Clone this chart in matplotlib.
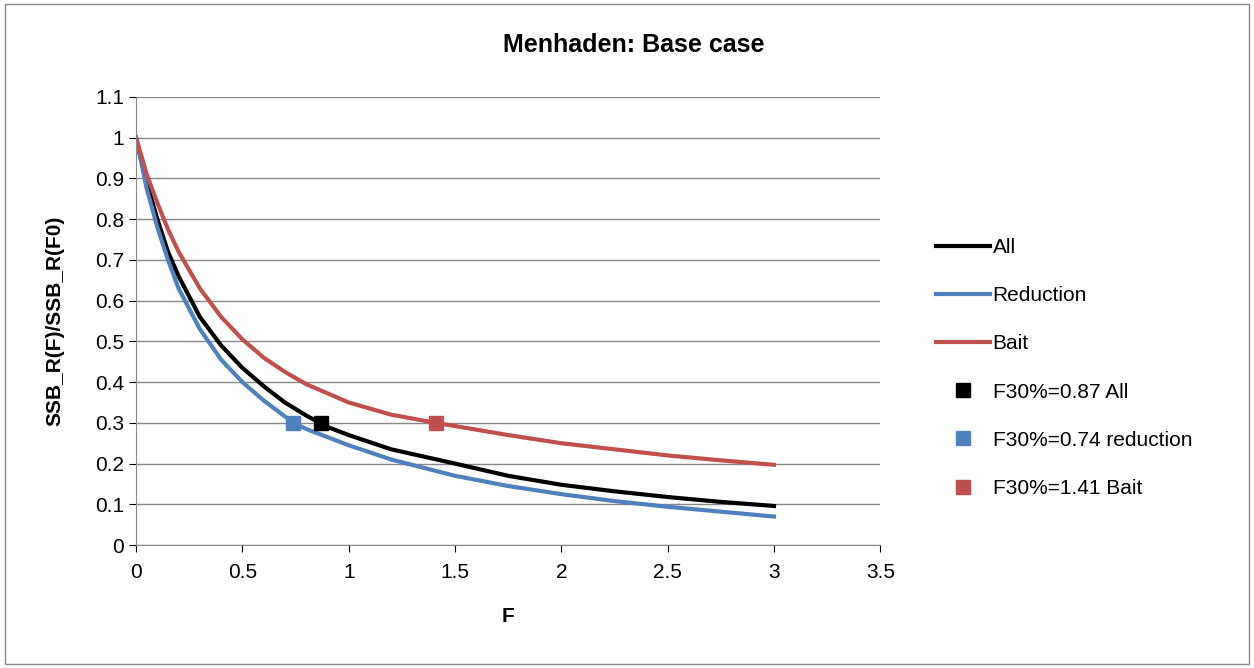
import matplotlib
matplotlib.use("Agg")
import matplotlib.pyplot as plt
from matplotlib.patches import Rectangle

plt.rcParams['font.family'] = ['Liberation Sans', 'DejaVu Sans']

f_all = [0, 0.05, 0.1, 0.15, 0.2, 0.3, 0.4, 0.5, 0.6, 0.7, 0.8, 0.9, 1.0, 1.2, 1.5, 1.75, 2.0, 2.25, 2.5, 2.75, 3.0]
ssb_all = [1.0, 0.89, 0.80, 0.72, 0.66, 0.56, 0.49, 0.435, 0.39, 0.35, 0.318, 0.29, 0.27, 0.235, 0.20, 0.17, 0.148, 0.132, 0.118, 0.106, 0.096]

f_red = [0, 0.05, 0.1, 0.15, 0.2, 0.3, 0.4, 0.5, 0.6, 0.74, 0.8, 1.0, 1.2, 1.5, 1.75, 2.0, 2.25, 2.5, 2.75, 3.0]
ssb_red = [1.0, 0.875, 0.78, 0.70, 0.63, 0.53, 0.455, 0.40, 0.355, 0.30, 0.285, 0.245, 0.21, 0.17, 0.145, 0.125, 0.108, 0.094, 0.082, 0.07]

f_bait = [0, 0.05, 0.1, 0.15, 0.2, 0.3, 0.4, 0.5, 0.6, 0.7, 0.8, 1.0, 1.2, 1.41, 1.75, 2.0, 2.25, 2.5, 2.75, 3.0]
ssb_bait = [1.0, 0.91, 0.84, 0.775, 0.72, 0.63, 0.56, 0.505, 0.46, 0.425, 0.395, 0.35, 0.32, 0.30, 0.27, 0.25, 0.235, 0.22, 0.208, 0.197]

points = [(0.87, 0.3, 'F30%=0.87 All', 'black'),
          (0.74, 0.3, 'F30%=0.74 reduction', '#4f81bd'),
          (1.41, 0.3, 'F30%=1.41 Bait', '#c0504d')]

fig = plt.figure(figsize=(12.54, 6.68), dpi=100)
ax = fig.add_axes([0.1085, 0.184, 0.5935, 0.671])

ax.plot(f_all, ssb_all, color='black', lw=3, label='All')
ax.plot(f_red, ssb_red, color='#4f81bd', lw=3, label='Reduction')
ax.plot(f_bait, ssb_bait, color='#c0504d', lw=3, label='Bait')
for x, y, lab, c in points:
    ax.plot([x], [y], 's', color=c, ms=10, label=lab, zorder=5)

ax.set_xlim(0, 3.5)
ax.set_ylim(0, 1.1)
ax.set_xticks([0, 0.5, 1, 1.5, 2, 2.5, 3, 3.5])
ax.set_xticklabels(['0', '0.5', '1', '1.5', '2', '2.5', '3', '3.5'])
ax.set_yticks([i / 10 for i in range(12)])
ax.set_yticklabels(['0'] + [f'{i/10:g}' for i in range(1, 12)])
ax.tick_params(labelsize=15, length=5, direction='out')
ax.tick_params(axis='x', pad=8)
ax.grid(axis='y', color='#888888', lw=1)
ax.set_axisbelow(True)
for s in ['top', 'right']:
    ax.spines[s].set_visible(False)
ax.spines['left'].set_color('#888888')
ax.spines['bottom'].set_color('#888888')

ax.set_xlabel('F', fontsize=15, fontweight='bold', labelpad=18)
ax.set_ylabel('SSB_R(F)/SSB_R(F0)', fontsize=15, fontweight='bold', labelpad=22)
fig.text(0.505, 0.932, 'Menhaden: Base case', ha='center', va='center', fontsize=18, fontweight='bold')

ax.legend(loc='center left', bbox_to_anchor=(1.05, 0.395), frameon=False, fontsize=15,
          handlelength=2.6, labelspacing=1.4, handletextpad=0.1)

fig.patches.append(Rectangle((0.004, 0.006), 0.992, 0.988, transform=fig.transFigure,
                             fill=False, edgecolor='#888888', lw=1))
fig.savefig('out.png', dpi=100)
